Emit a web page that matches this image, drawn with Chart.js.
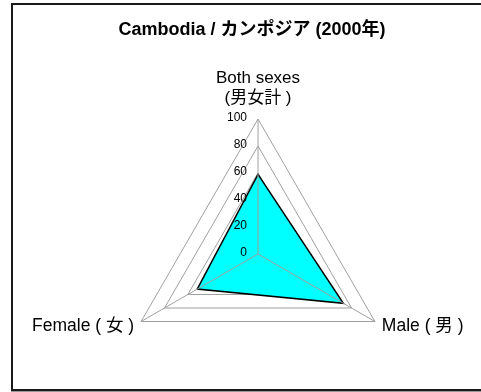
<!DOCTYPE html>
<html>
<head>
<meta charset="utf-8">
<script src="https://cdn.jsdelivr.net/npm/chart.js@4/dist/chart.umd.min.js"></script>
<style>
  html, body { margin: 0; padding: 0; background: #fff; overflow: hidden; }
  #frame { position: absolute; left: 11px; top: 3px; width: 1000px; height: 384px;
           border: 2px solid #1a1a1a; box-shadow: 0 1px 0 #999; }
  /* canvas is a bit larger than the window so the radar gets the same size as the original */
  #wrap { position: absolute; left: -6px; top: 0; width: 516px; height: 415px; }
</style>
</head>
<body>
<div id="frame"></div>
<div id="wrap"><canvas id="myChart"></canvas></div>
<script>
const categories = [["Both sexes", "(男女計 )"], "Male ( 男 )", "Female ( 女 )"];
const values = [59, 73, 52];
const tickValues = [0, 20, 40, 60, 80, 100];
const titleText = "Cambodia / カンポジア (2000年)";

const family = '"Liberation Sans", Arial, "Noto Sans CJK JP", sans-serif';

// spokes go over the fill and tick numbers sit left of the axis, like the original
const overlay = {
    id: 'overlay',
    afterDatasetsDraw(chart) {
        const r = chart.scales.r;
        const ctx = chart.ctx;
        ctx.save();
        ctx.strokeStyle = '#a0a0a0';
        ctx.lineWidth = 1;
        for (let i = 0; i < categories.length; i++) {
            const p = r.getPointPositionForValue(i, r.max);
            ctx.beginPath();
            ctx.moveTo(r.xCenter, r.yCenter);
            ctx.lineTo(p.x, p.y);
            ctx.stroke();
        }
        ctx.fillStyle = '#000';
        ctx.font = '12px ' + family;
        ctx.textAlign = 'right';
        ctx.textBaseline = 'middle';
        tickValues.forEach((v) => {
            const y = r.yCenter - r.getDistanceFromCenterForValue(v);
            ctx.fillText(String(v), r.xCenter - 11, y - 1);
        });
        ctx.restore();
    }
};

const ctx = document.getElementById('myChart').getContext('2d');
const myChart = new Chart(ctx, {
    type: 'radar',
    data: {
        labels: categories,
        datasets: [{
            label: 'Cambodia',
            data: values,
            backgroundColor: '#00ffff',
            borderColor: '#000000',
            borderWidth: 1.5,
            pointRadius: 0,
            fill: true
        }]
    },
    options: {
        responsive: true,
        maintainAspectRatio: false,
        animation: false,
        plugins: {
            legend: { display: false },
            tooltip: { enabled: false },
            title: {
                display: true,
                text: titleText,
                color: '#000',
                font: { family: family, size: 18, weight: 'bold', lineHeight: 1.2 },
                padding: { top: 19.2, bottom: 2.2 }
            }
        },
        scales: {
            r: {
                min: 0,
                max: 100,
                ticks: { display: false, stepSize: 20 },
                grid: { color: '#a0a0a0', lineWidth: 1 },
                angleLines: { display: false },
                pointLabels: {
                    color: '#000',
                    padding: (c) => c.index === 0 ? 11 : 8,
                    font: (c) => c.index === 0
                        ? { family: family, size: 17, lineHeight: 20 / 17 }
                        : { family: family, size: 17.5, lineHeight: 0.1 }
                }
            }
        }
    },
    plugins: [overlay]
});
</script>
</body>
</html>
